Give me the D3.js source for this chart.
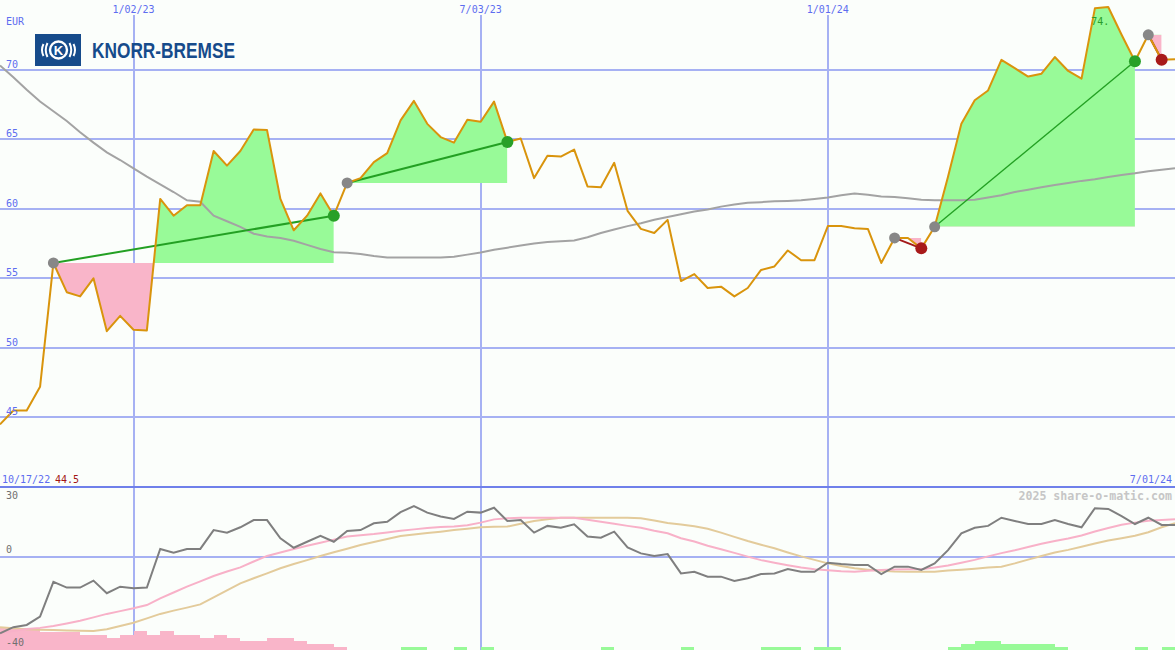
<!DOCTYPE html>
<html><head><meta charset="utf-8">
<script src="https://cdn.jsdelivr.net/npm/d3@7"></script>
<style>html,body{margin:0;padding:0;background:#fbfefb;}svg{display:block;}</style>
</head><body><svg id="c" width="1175" height="650"></svg>
<script>
// ---- data (weekly, index 0 = 10/17/22, index 88 = 7/01/24) ----
const startLabel = "10/17/22";
const endLabel = "7/01/24";
const price = [44.5,45.5,45.5,47.2,56.1,54.0,53.7,55.0,51.2,52.3,
  51.3,51.25,60.7,59.5,60.25,60.25,64.15,63.1,64.15,65.7,
  65.65,60.7,58.45,59.5,61.1,59.5,61.85,62.2,63.35,64.0,
  66.35,67.75,66.1,65.15,64.75,66.4,66.25,67.7,64.8,65.05,
  62.2,63.8,63.75,64.25,61.6,61.55,63.3,59.85,58.55,58.25,
  59.2,54.8,55.3,54.3,54.4,53.7,54.3,55.6,55.85,57.0,
  56.3,56.3,58.75,58.75,58.6,58.55,56.1,57.9,57.9,57.15,
  58.7,62.3,66.1,67.8,68.5,70.7,70.1,69.5,69.7,70.9,
  69.9,69.35,74.4,74.5,72.5,70.6,72.5,70.7,70.75];
const movingAvg = [70.3,69.45,68.55,67.7,67.0,66.3,65.5,64.75,64.05,63.5,
  62.9,62.3,61.75,61.2,60.6,60.5,59.5,59.1,58.7,58.2,
  58.0,57.9,57.7,57.4,57.1,56.87,56.83,56.75,56.6,56.5,
  56.5,56.5,56.5,56.5,56.55,56.7,56.85,57.05,57.2,57.35,
  57.5,57.6,57.67,57.72,57.95,58.25,58.5,58.75,58.95,59.2,
  59.4,59.6,59.8,59.95,60.15,60.3,60.42,60.47,60.53,60.56,
  60.6,60.7,60.8,60.97,61.1,61.0,60.88,60.85,60.75,60.65,
  60.6,60.6,60.6,60.65,60.8,60.97,61.2,61.37,61.55,61.7,
  61.85,62.0,62.12,62.28,62.43,62.55,62.7,62.8,62.9];
const oscillator = [-32.8,-30.2,-29.25,-25.7,-10.7,-13.2,-13.2,-10.2,-15.6,-12.8,
  -13.5,-13.2,3.4,1.8,3.4,3.4,11.5,10.4,12.7,15.8,
  15.8,8.0,3.9,6.5,9.0,6.5,11.1,11.5,14.4,15.1,
  19.2,21.8,19.0,17.3,16.3,19.4,19.0,21.1,15.4,15.8,
  10.4,13.3,12.5,14.0,8.7,8.2,10.8,4.1,1.5,0.4,
  1.2,-7.1,-6.4,-8.5,-8.5,-10.4,-9.2,-7.4,-7.1,-5.2,
  -6.4,-6.4,-2.5,-3.1,-3.5,-3.5,-7.4,-4.2,-4.2,-5.6,
  -2.8,2.9,10.1,12.5,13.3,16.8,15.4,14.1,14.1,15.8,
  14.1,12.7,20.9,20.6,17.5,14.1,16.8,13.7,13.7];
const signalFast = [-32.6,-31.8,-31.0,-30.5,-29.7,-28.6,-27.4,-26.0,-24.5,-23.3,
  -22.1,-20.7,-17.8,-15.3,-12.8,-10.5,-8.2,-6.3,-4.5,-2.0,
  0.4,1.9,3.4,4.8,6.1,7.4,8.7,9.3,9.8,10.5,
  11.2,11.8,12.4,12.8,13.0,13.6,14.7,16.1,16.6,16.8,
  16.8,16.8,16.8,16.8,15.9,15.1,14.2,13.3,12.5,11.2,
  10.1,8.0,6.6,4.8,3.3,1.7,0.1,-1.4,-2.5,-3.6,
  -4.6,-5.3,-5.8,-6.2,-6.4,-6.0,-5.6,-5.4,-5.3,-5.3,
  -4.6,-3.7,-2.5,-1.3,0.2,1.6,2.8,4.2,5.6,6.8,
  7.9,9.2,10.9,12.4,13.8,14.7,15.5,15.8,16.1];
const signalSlow = [-30.2,-30.7,-31.1,-31.3,-31.4,-31.6,-31.7,-31.8,-31.1,-29.7,
  -28.3,-26.4,-24.5,-23.1,-21.8,-20.4,-17.4,-14.4,-11.4,-9.2,
  -7.1,-4.9,-3.1,-1.4,0.4,2.0,3.5,5.1,6.4,7.7,
  9.0,9.6,10.2,10.8,11.5,12.1,12.7,12.9,13.0,14.2,
  15.4,16.1,16.8,16.8,16.8,16.8,16.8,16.8,16.6,15.6,
  14.5,13.9,13.1,12.1,10.4,8.6,6.8,5.2,3.7,1.9,
  0.2,-1.3,-2.8,-3.9,-4.9,-5.5,-6.0,-6.3,-6.4,-6.4,
  -6.4,-5.9,-5.5,-5.1,-4.6,-4.2,-2.8,-1.2,0.4,1.9,
  3.0,4.3,5.7,7.0,8.0,9.1,10.6,12.7,14.4];
const histogram = [-22,-22,-22,-18,-18,-18,-15,-15,-12,-15,
  -19,-15,-19,-15,-15,-12,-15,-12,-9,-9,
  -12,-12,-9,-6,-6,-3,0,0,0,0,
  3,3,0,0,3,0,3,0,0,0,
  0,0,0,0,0,3,0,0,0,0,
  0,3,0,0,0,0,0,3,3,3,
  0,3,3,0,0,0,0,0,0,0,
  0,3,6,9,9,6,6,6,6,3,
  0,0,0,0,0,3,0,3,0];
const tradeEntries = [4, 26, 67, 70, 86];
const tradeExits   = [25, 38, 69, 85, 87];
const priceTicks = [45, 50, 55, 60, 65, 70];
const oscTicks = [30, 0, -40];
const dateTickIndex = [10, 36, 62];
const dateTickLabels = ["1/02/23", "7/03/23", "1/01/24"];
const peakLabel = "74.";

// ---- drawing ----
const W = 1175, H = 650, SPLIT = 487;
const svg = d3.select("#c");
const x = d3.scaleLinear().domain([0, price.length - 1]).range([0, W]);
const y = d3.scaleLinear().domain([40, 75]).range([SPLIT, 0]);
const yo = d3.scaleLinear().domain([-40, 30]).range([H, SPLIT]);
const hb = d3.scaleLinear().domain([0, 30]).range([0, 30]);

const GRID = "#a6b1f3", LABEL = "#5d6df0", FONT = "'DejaVu Sans Mono', monospace";
svg.append("rect").attr("width", W).attr("height", H).attr("fill", "#fbfefb");

// gridlines
const g = svg.append("g").attr("shape-rendering", "crispEdges");
g.selectAll(".hg").data(priceTicks).join("line")
  .attr("x1", 0).attr("x2", W).attr("y1", d => Math.round(y(d))).attr("y2", d => Math.round(y(d)))
  .attr("stroke", GRID).attr("stroke-width", 2);
g.append("line").attr("x1", 0).attr("x2", W).attr("y1", Math.round(yo(0))).attr("y2", Math.round(yo(0)))
  .attr("stroke", GRID).attr("stroke-width", 2);
g.selectAll(".vg").data(dateTickIndex).join("line")
  .attr("x1", d => Math.round(x(d))).attr("x2", d => Math.round(x(d))).attr("y1", 15).attr("y2", H)
  .attr("stroke", GRID).attr("stroke-width", 2);
g.append("line").attr("x1", 0).attr("x2", W).attr("y1", SPLIT).attr("y2", SPLIT)
  .attr("stroke", "#6f80ea").attr("stroke-width", 2);

// trade fills
const defs = svg.append("defs");
tradeEntries.forEach((e, k) => {
  const xt = tradeExits[k];
  const base = price[e];
  const idx = d3.range(e, xt + 1);
  const area = d3.area().x(i => x(i)).y0(y(base)).y1(i => y(price[i]));
  const x0 = x(e), x1 = x(xt);
  defs.append("clipPath").attr("id", "up" + k).append("rect")
    .attr("x", x0).attr("width", x1 - x0).attr("y", 0).attr("height", y(base));
  defs.append("clipPath").attr("id", "dn" + k).append("rect")
    .attr("x", x0).attr("width", x1 - x0).attr("y", y(base)).attr("height", SPLIT - y(base));
  svg.append("path").attr("d", area(idx)).attr("fill", "#98fa98").attr("clip-path", `url(#up${k})`);
  svg.append("path").attr("d", area(idx)).attr("fill", "#f9b5c9").attr("clip-path", `url(#dn${k})`);
});

// moving average
const line = d3.line().x((d, i) => x(i)).y(d => y(d));
svg.append("path").attr("d", line(movingAvg)).attr("fill", "none")
  .attr("stroke", "#a3a3a3").attr("stroke-width", 2);

// trade lines
tradeEntries.forEach((e, k) => {
  const xt = tradeExits[k];
  const win = price[xt] >= price[e];
  svg.append("line").attr("x1", x(e)).attr("y1", y(price[e])).attr("x2", x(xt)).attr("y2", y(price[xt]))
    .attr("stroke", win ? "#23a023" : "#a41a1a").attr("stroke-width", (xt - e) > 10 && Math.abs(price[xt]-price[e]) > 8 ? 1.4 : 2);
});

// price line
svg.append("path").attr("d", line(price)).attr("fill", "none")
  .attr("stroke", "#d9940c").attr("stroke-width", 2).attr("stroke-linejoin", "round");

// dots
tradeEntries.forEach((e, k) => {
  const xt = tradeExits[k];
  const win = price[xt] >= price[e];
  svg.append("circle").attr("cx", x(e)).attr("cy", y(price[e])).attr("r", 5.5).attr("fill", "#878787");
  svg.append("circle").attr("cx", x(xt)).attr("cy", y(price[xt])).attr("r", 6).attr("fill", win ? "#28a028" : "#a81a1a");
});

// peak label
const peakIdx = d3.maxIndex(price);
svg.append("text").attr("x", x(peakIdx) - 17).attr("y", 25).text(peakLabel)
  .attr("font-family", FONT).attr("font-size", 10).attr("fill", "#2a9d2a");

// lower panel: histogram bars
svg.append("g").selectAll("rect").data(histogram).join("rect")
  .attr("x", (d, i) => x(i)).attr("width", (d, i) => x(i + 1) - x(i))
  .attr("y", d => H - hb(Math.abs(d))).attr("height", d => hb(Math.abs(d)))
  .attr("fill", d => d < 0 ? "#f9b5c9" : "#98fa98").attr("shape-rendering", "crispEdges");

const lo = d3.line().x((d, i) => x(i)).y(d => yo(d));
svg.append("path").attr("d", lo(signalSlow)).attr("fill", "none").attr("stroke", "#e3cb9b").attr("stroke-width", 2);
svg.append("path").attr("d", lo(signalFast)).attr("fill", "none").attr("stroke", "#f8b1c8").attr("stroke-width", 2);
svg.append("path").attr("d", lo(oscillator)).attr("fill", "none").attr("stroke", "#7f7f7f").attr("stroke-width", 2);

// labels
const T = (xx, yy, txt, fill, anchor, size, weight) => svg.append("text").attr("x", xx).attr("y", yy).text(txt)
  .attr("font-family", FONT).attr("font-size", size || 10).attr("fill", fill)
  .attr("text-anchor", anchor || "start").attr("font-weight", weight || "normal");
T(6, 25, "EUR", LABEL);
priceTicks.forEach(t => T(6, y(t) - 2, String(t), LABEL));
dateTickIndex.forEach((d, i) => T(x(d), 13, dateTickLabels[i], LABEL, "middle"));
T(2, 483, startLabel, LABEL);
T(55, 483, d3.format(".1f")(price[0]), "#a31515");
T(1172, 483, endLabel, LABEL, "end");
T(1172, 500, "2025 share-o-matic.com", "#c6c6c6", "end", 11.6, "bold");
oscTicks.forEach(t => T(6, t === 30 ? yo(t) + 12 : yo(t) - 4, String(t), "#707070"));

// logo
const logo = svg.append("g");
logo.append("rect").attr("x", 35).attr("y", 34).attr("width", 46).attr("height", 32).attr("fill", "#164b8b");
logo.append("circle").attr("cx", 58.5).attr("cy", 50).attr("r", 8.5).attr("fill", "none").attr("stroke", "#fff").attr("stroke-width", 2.4);
logo.append("text").attr("x", 58.5).attr("y", 55).attr("text-anchor", "middle").text("K")
  .attr("font-family", "'Liberation Sans', Arial").attr("font-weight", "bold").attr("font-size", 13).attr("fill", "#fff");
[["M47.5,43 Q44,50 47.5,57", "M43.5,44 Q40.5,50 43.5,56"], ["M69.5,43 Q73,50 69.5,57", "M73.5,44 Q76.5,50 73.5,56"]]
  .flat().forEach(p => logo.append("path").attr("d", p).attr("fill", "none").attr("stroke", "#fff").attr("stroke-width", 2));
logo.append("text").attr("x", 92).attr("y", 58).text("KNORR-BREMSE")
  .attr("font-family", "'Liberation Sans Narrow', 'Liberation Sans', Arial").attr("font-weight", "bold")
  .attr("font-size", 22).attr("fill", "#164b8b").attr("textLength", 143).attr("lengthAdjust", "spacingAndGlyphs");
</script></body></html>
